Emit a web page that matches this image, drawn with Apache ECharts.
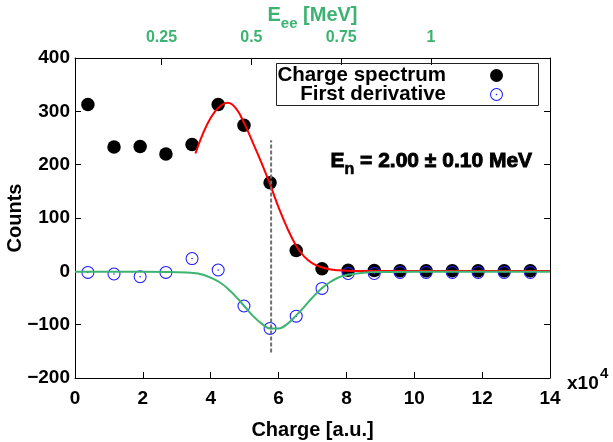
<!DOCTYPE html>
<html>
<head>
<meta charset="utf-8">
<script src="https://cdn.jsdelivr.net/npm/echarts@6/dist/echarts.min.js"></script>
<style>
  html, body { margin: 0; padding: 0; background: #fff; }
  #chart { width: 613px; height: 442px; }
</style>
</head>
<body>
<div id="chart"></div>
<script>
// Charge bins (x10^4 a.u.) and measured counts
const chargeBins = [0.38, 1.15, 1.92, 2.68, 3.45, 4.22, 4.98, 5.75, 6.52, 7.28, 8.05, 8.82, 9.58, 10.35, 11.12, 11.88, 12.65, 13.42];
const spectrumCounts = [313, 233, 234, 220, 238, 313, 274, 166, 39, 5, 2, 1.5, 1, 1, 1, 1, 1, 1];
const derivativeCounts = [-2, -5, -10, -2, 24, 2.5, -65, -107, -84, -32, -4, -4, -2, -2, -2, -2, -2, -2];

// Fit to the spectrum edge (red)
const fitCharge = [3.55, 3.75, 4.0, 4.25, 4.5, 4.75, 5.0, 5.25, 5.5, 5.75, 6.0, 6.25, 6.5, 6.75, 7.0, 7.25, 7.5, 7.75, 8.0, 8.5, 9, 10, 11, 12, 13, 14];
const fitCounts = [221, 255, 288, 308, 316, 305, 276, 240, 203, 163, 120, 82, 50, 28, 15, 8, 4, 2, 1, 0.5, 0.5, 0.5, 0.5, 0.5, 0.5, 0.5];

// Fit to the first derivative (green)
const derivFitCharge = [0, 1, 2, 3, 3.5, 3.75, 4.0, 4.25, 4.5, 4.75, 5.0, 5.25, 5.5, 5.75, 6.0, 6.25, 6.5, 6.75, 7.0, 7.25, 7.5, 7.75, 8.0, 8.5, 9, 10, 11, 12, 13, 14];
const derivFitCounts = [-1, -1, -1, -1.5, -3, -6, -12, -20, -32, -48, -66, -84, -98, -107, -107, -99, -84, -67, -49, -33, -21, -12, -7, -2.5, -1.3, -1, -1, -1, -1, -1];

// Compton edge position and the extent of its marker line
const edgeCharge = 5.78;
const edgeSpan = [-152, 246];

// Axis ticks
const yTicks = { min: -200, max: 400, step: 100 };
const xTicks = { min: 0, max: 14, step: 2 };
const eeTicks = [0.25, 0.5, 0.75, 1];
const eeRange = [0.0093, 1.331];

const FONT = "'Liberation Sans', Arial, sans-serif";
const GREEN = '#3cb371';
const BLUE = '#1a1aff';

// open circle with a centre dot
const ringDot = 'path://M50,0 A50,50 0 1,1 50,100 A50,50 0 1,1 50,0 Z M50,8 A42,42 0 1,0 50,92 A42,42 0 1,0 50,8 Z M50,44 A6,6 0 1,1 50,56 A6,6 0 1,1 50,44 Z';

const zip = (xs, ys) => xs.map((x, i) => [x, ys[i]]);

const chart = echarts.init(document.getElementById('chart'), null, { renderer: 'canvas' });

const legendBase = {
  orient: 'vertical',
  align: 'right',
  right: 110,
  padding: 0,
  itemWidth: 13,
  itemHeight: 13,
  selectedMode: false,
  textStyle: { fontFamily: FONT, fontWeight: 'bold', fontSize: 20.5, color: '#000', lineHeight: 20, padding: [0, 39, 0, 0] }
};

chart.setOption({
  backgroundColor: '#fff',
  animation: false,
  grid: { left: 75, right: 63, top: 58, bottom: 64, containLabel: false, outerBoundsMode: 'none' },
  legend: [
    Object.assign({}, legendBase, { top: 65, data: ['Charge spectrum'] }),
    Object.assign({}, legendBase, { top: 84, data: ['First derivative'] })
  ],
  xAxis: [
    {
      type: 'value', position: 'bottom',
      min: xTicks.min, max: xTicks.max, interval: xTicks.step,
      name: 'Charge [a.u.]', nameLocation: 'middle', nameGap: 42, nameMoveOverlap: false,
      nameTextStyle: { fontFamily: FONT, fontWeight: 'bold', fontSize: 20, color: '#000' },
      axisLine: { show: true, onZero: false, lineStyle: { color: '#000', width: 1 } },
      axisTick: { show: true, inside: true, length: 6, lineStyle: { color: '#000' } },
      axisLabel: { fontFamily: FONT, fontWeight: 'bold', fontSize: 19, color: '#000', margin: 11 },
      splitLine: { show: false }
    },
    {
      type: 'value', position: 'top',
      min: eeRange[0], max: eeRange[1],
      name: '{m|E}{s|ee}{m| [MeV]}', nameLocation: 'middle', nameGap: 27, nameMoveOverlap: false,
      nameTextStyle: {
        rich: {
          m: { fontFamily: FONT, fontWeight: 'bold', fontSize: 20, color: GREEN, verticalAlign: 'bottom', padding: [0, 0, 6, 0] },
          s: { fontFamily: FONT, fontWeight: 'bold', fontSize: 15, color: GREEN, verticalAlign: 'bottom' }
        }
      },
      axisLine: { show: true, onZero: false, lineStyle: { color: '#000', width: 1 } },
      axisTick: { show: true, inside: true, length: 7, customValues: eeTicks, lineStyle: { color: '#000' } },
      axisLabel: {
        customValues: eeTicks, fontFamily: FONT, fontWeight: 'bold', fontSize: 16, color: GREEN, margin: 12,
        formatter: v => String(v)
      },
      splitLine: { show: false }
    }
  ],
  yAxis: [
    {
      type: 'value', position: 'left',
      min: yTicks.min, max: yTicks.max, interval: yTicks.step,
      name: 'Counts', nameLocation: 'middle', nameGap: 50, nameRotate: 90, nameMoveOverlap: false,
      nameTextStyle: { fontFamily: FONT, fontWeight: 'bold', fontSize: 20, color: '#000' },
      axisLine: { show: true, onZero: false, lineStyle: { color: '#000', width: 1 } },
      axisTick: { show: true, inside: true, length: 6, lineStyle: { color: '#000' } },
      axisLabel: {
        fontFamily: FONT, fontWeight: 'bold', fontSize: 19, color: '#000', margin: 5,
        formatter: v => (v < 0 ? '\u2212' + Math.abs(v) : String(v))
      },
      splitLine: { show: false }
    },
    {
      type: 'value', position: 'right',
      min: yTicks.min, max: yTicks.max, interval: yTicks.step,
      axisLine: { show: true, onZero: false, lineStyle: { color: '#000', width: 1 } },
      axisTick: { show: true, inside: true, length: 6, lineStyle: { color: '#000' } },
      axisLabel: { show: false },
      splitLine: { show: false }
    }
  ],
  graphic: [
    {
      type: 'rect', left: 276, top: 63, z: 1,
      shape: { width: 262, height: 42 },
      style: { fill: 'rgba(255,255,255,0)', stroke: '#222', lineWidth: 1 }
    },
    {
      type: 'text', left: 330, top: 150, z: 10,
      style: {
        text: '{m|E}{s|n}{m| = 2.00 \u00b1 0.10 MeV}',
        rich: {
          m: { fontFamily: FONT, fontWeight: 'bold', fontSize: 21, fill: '#000', stroke: '#000', lineWidth: 0.9, verticalAlign: 'bottom', padding: [0, 0, 6, 0] },
          s: { fontFamily: FONT, fontWeight: 'bold', fontSize: 16, fill: '#000', stroke: '#000', lineWidth: 0.6, verticalAlign: 'bottom' }
        }
      }
    },
    {
      type: 'text', left: 567, top: 374, z: 10,
      style: { text: 'x10', fontFamily: FONT, fontWeight: 'bold', fontSize: 19, fill: '#000' }
    },
    {
      type: 'text', left: 600, top: 366, z: 10,
      style: { text: '4', fontFamily: FONT, fontWeight: 'bold', fontSize: 15, fill: '#000' }
    }
  ],
  series: [
    {
      name: 'Fit spectrum', type: 'line', xAxisIndex: 0, yAxisIndex: 0,
      data: zip(fitCharge, fitCounts), smooth: 0.4,
      showSymbol: false, symbol: 'none', z: 3,
      lineStyle: { color: '#ff0000', width: 2 }
    },
    {
      name: 'Fit derivative', type: 'line', xAxisIndex: 0, yAxisIndex: 0,
      data: zip(derivFitCharge, derivFitCounts), smooth: 0.4,
      showSymbol: false, symbol: 'none', z: 3,
      lineStyle: { color: GREEN, width: 2 }
    },
    {
      name: 'Charge spectrum', type: 'scatter', xAxisIndex: 0, yAxisIndex: 0,
      data: zip(chargeBins, spectrumCounts), symbol: 'circle', symbolSize: 13.5, z: 2,
      itemStyle: { color: '#000', opacity: 1 }
    },
    {
      name: 'First derivative', type: 'scatter', xAxisIndex: 0, yAxisIndex: 0,
      data: zip(chargeBins, derivativeCounts), symbol: ringDot, symbolSize: 13, z: 2,
      itemStyle: { color: BLUE, opacity: 1 }
    },
    {
      name: 'Edge', type: 'line', xAxisIndex: 0, yAxisIndex: 0,
      data: [[edgeCharge, edgeSpan[0]], [edgeCharge, edgeSpan[1]]],
      showSymbol: false, symbol: 'none', z: 4,
      lineStyle: { color: '#707070', width: 2, type: [4, 2] }
    }
  ]
});
</script>
</body>
</html>
